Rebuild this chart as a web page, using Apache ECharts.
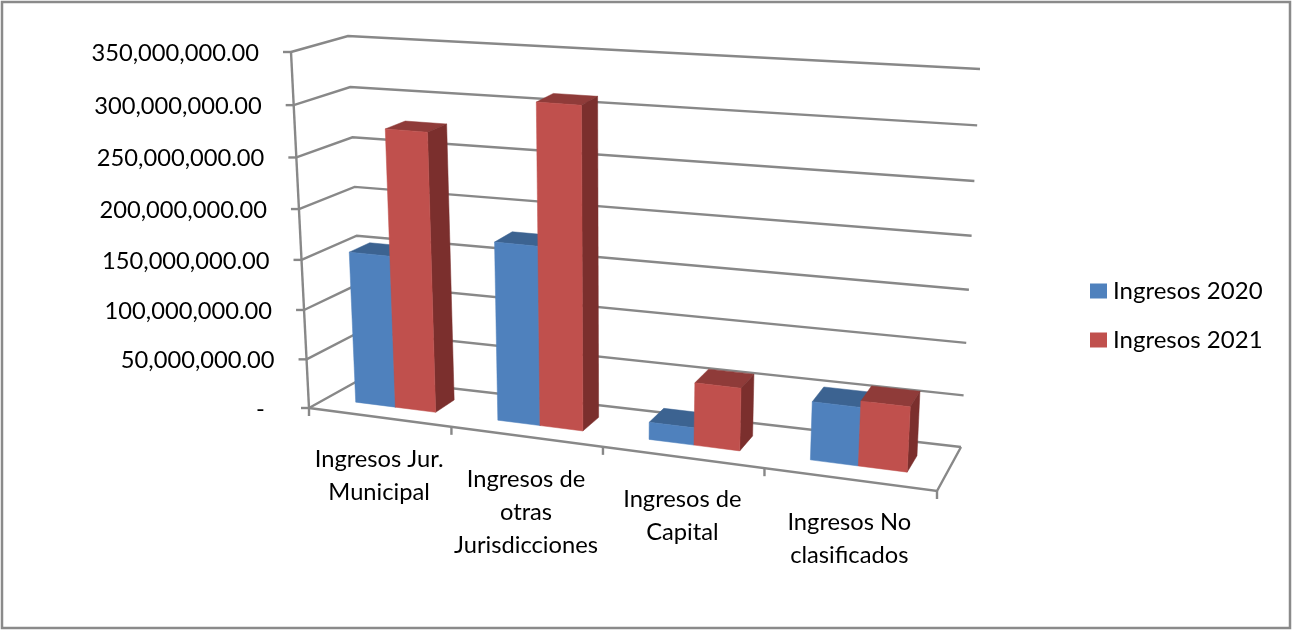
<!DOCTYPE html>
<html><head><meta charset="utf-8">
<style>html,body{margin:0;padding:0;background:#fff}#c{width:1292px;height:630px}</style>
<script src="https://cdn.jsdelivr.net/npm/echarts@6/dist/echarts.min.js"></script>
</head><body><div id="c"></div>
<script>
const categories = ["Ingresos Jur.\nMunicipal","Ingresos de\notras\nJurisdicciones","Ingresos de\nCapital","Ingresos No\nclasificados"];
const ingresos2020 = [153000000,177000000,17000000,56000000];
const ingresos2021 = [277000000,313000000,61000000,62000000];
const tickValues = [0,50000000,100000000,150000000,200000000,250000000,300000000,350000000];
const tickLabels = ["-  ","50,000,000.00","100,000,000.00","150,000,000.00","200,000,000.00","250,000,000.00","300,000,000.00","350,000,000.00"];

const FONT = 'Lato', GREY = '#888888';
// Box corners of the 3D-look plot: front/back, left/right, bottom/top
const C = {fl0:[309,408],fl1:[291,52],bl0:[363,378],bl1:[348,36],fr0:[937,491],fr1:[958,100],br0:[961,447],br1:[980,69]};
const PERSP_U = 0.88, PERSP_W = 0.95, BAR_V0 = 0.32, BAR_V1 = 0.70;
const lerp = (a,b,t)=>[a[0]+(b[0]-a[0])*t,a[1]+(b[1]-a[1])*t];
function P(u,v,w){
  const uu = u*PERSP_U/(1+u*(PERSP_U-1)), ww = w*PERSP_W/(1+w*(PERSP_W-1));
  const l = lerp(lerp(C.fl0,C.bl0,v),lerp(C.fl1,C.bl1,v),ww);
  const r = lerp(lerp(C.fr0,C.br0,v),lerp(C.fr1,C.br1,v),ww);
  return lerp(l,r,uu);
}
const line = pts => ({type:'polyline',shape:{points:pts},style:{stroke:GREY,lineWidth:2.4,fill:null}});
const poly = (pts,fill) => ({type:'polygon',shape:{points:pts},style:{fill:fill,stroke:fill,lineWidth:0.5}});
const txt = (x,y,s,align,vAlign) => ({type:'text',x:x,y:y,style:{text:s,font:'23.7px '+FONT,fill:'#000',align:align,verticalAlign:vAlign,lineHeight:33}});

function renderFrame(params,api){
  const g = params.coordSys, i = params.dataIndex;
  const w = (g.y+g.height-api.coord([0,api.value(1)])[1])/g.height;
  const a = P(0,0,w), b = P(0,1,w), c = P(1,1,w);
  const kids = [line([a,b,c]), line([[a[0]-8,a[1]],a]), txt(a[0]-32,a[1]+1,tickLabels[i],'right','middle')];
  if(i===0){
    kids.push(line([P(0,0,0),P(0,0,1)]));
    kids.push(line([P(0,0,0),P(1,0,0),P(1,1,0)]));
    for(let k=0;k<=categories.length;k++){const p=P(k/categories.length,0,0);kids.push(line([p,[p[0],p[1]+8]]));}
  }
  return {type:'group',children:kids};
}
function renderCat(params,api){
  const g = params.coordSys, c = api.coord([api.value(0),0]);
  const p = P((c[0]-g.x)/g.width,0,0);
  return txt(p[0],p[1]+26,categories[params.dataIndex],'center','top');
}
function barRenderer(f0,f1,front,top,side){
  return function(params,api){
    const g = params.coordSys, c = api.coord([api.value(0),api.value(1)]), band = api.size([1,0])[0];
    const u0=(c[0]+(f0-.5)*band-g.x)/g.width, u1=(c[0]+(f1-.5)*band-g.x)/g.width, w=(g.y+g.height-c[1])/g.height;
    return {type:'group',children:[
      poly([P(u0,BAR_V0,w),P(u1,BAR_V0,w),P(u1,BAR_V1,w),P(u0,BAR_V1,w)],top),
      poly([P(u1,BAR_V0,0),P(u1,BAR_V1,0),P(u1,BAR_V1,w),P(u1,BAR_V0,w)],side),
      poly([P(u0,BAR_V0,0),P(u1,BAR_V0,0),P(u1,BAR_V0,w),P(u0,BAR_V0,w)],front)
    ]};
  };
}
const chart = echarts.init(document.getElementById('c'));
chart.setOption({
  animation:false, backgroundColor:'#fff',
  graphic:[{type:'rect',shape:{x:2,y:2,width:1288,height:626},style:{fill:null,stroke:'#8a8a8a',lineWidth:2.5},silent:true}],
  legend:{orient:'vertical',left:1085,top:274,itemWidth:17,itemHeight:15,itemGap:25,icon:'rect',
    data:['Ingresos 2020','Ingresos 2021'],textStyle:{fontFamily:FONT,fontSize:24,color:'#000',padding:[0,0,0,1]}},
  grid:{left:100,right:100,top:100,bottom:100},
  xAxis:{type:'category',data:categories,show:false},
  yAxis:{type:'value',min:0,max:350000000,interval:50000000,show:false},
  series:[
    {type:'custom',name:'frame',silent:true,renderItem:renderFrame,data:tickValues.map(v=>[0,v]),z:1},
    {type:'custom',name:'labels',silent:true,renderItem:renderCat,data:categories.map((c,i)=>[i,0]),z:1},
    {type:'custom',name:'Ingresos 2020',itemStyle:{color:'#4F81BD'},renderItem:barRenderer(.215,.5,'#4F81BD','#3C6391','#385D8A'),data:ingresos2020.map((v,i)=>[i,v]),z:2},
    {type:'custom',name:'Ingresos 2021',itemStyle:{color:'#C0504D'},renderItem:barRenderer(.5,.785,'#C0504D','#8F3B39','#7B2F2D'),data:ingresos2021.map((v,i)=>[i,v]),z:3}
  ]
});
</script></body></html>
